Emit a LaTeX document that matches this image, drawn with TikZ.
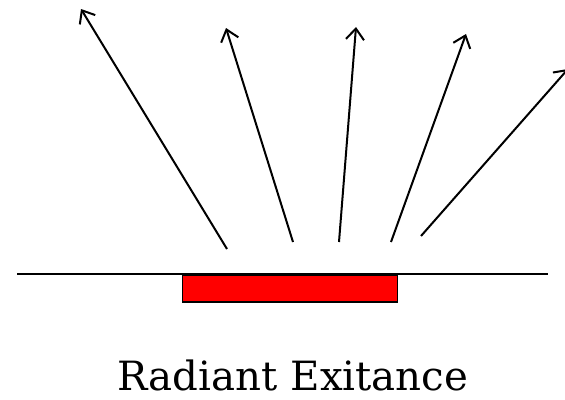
\documentclass[tikz,border=0pt]{standalone}
\usepackage{fontspec}
\setmainfont{DejaVu Serif}
\usetikzlibrary{arrows.meta}
\tikzset{
  ray/.style={line width=2pt, -{Straight Barb[length=11pt,width=18pt,line width=2pt]}},
  ground/.style={line width=1.8pt},
  emitter/.style={draw=black, line width=1.6pt, fill=red}
}
\begin{document}
\begin{tikzpicture}[x=1pt,y=-1pt]
\useasboundingbox (0,0) rectangle (565,399);
\coordinate (gl) at (17,274);
\coordinate (gr) at (548,274);
\draw[ground] (gl) -- (gr);
\node[emitter, minimum width=215pt, minimum height=27pt, inner sep=0pt, anchor=north west] (src) at (181.7,274) {};
\coordinate (s1) at (227,249); \coordinate (t1) at (81,9);
\coordinate (s2) at (293,242); \coordinate (t2) at (226,28);
\coordinate (s3) at (339,242); \coordinate (t3) at (356,27);
\coordinate (s4) at (391,242); \coordinate (t4) at (466,34);
\coordinate (s5) at (421,236); \coordinate (t5) at (568,69);
\draw[ray] (s1) -- (t1);
\draw[ray] (s2) -- (t2);
\draw[ray] (s3) -- (t3);
\draw[ray] (s4) -- (t4);
\draw[ray] (s5) -- (t5);
\node[font=\fontsize{40.3}{44}\selectfont, anchor=base, inner sep=0pt] (lbl) at (293,390) {Radiant Exitance};
\end{tikzpicture}
\end{document}
